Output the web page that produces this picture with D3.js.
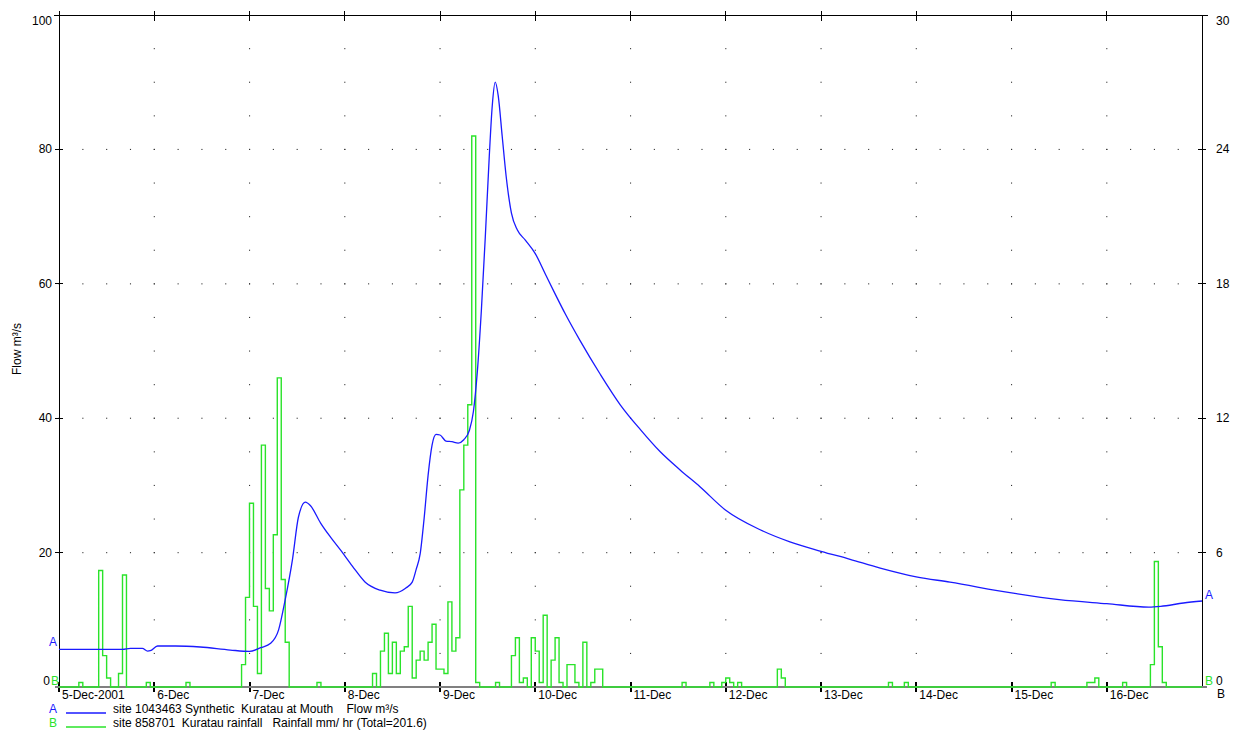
<!DOCTYPE html>
<html>
<head>
<meta charset="utf-8">
<script src="https://cdn.jsdelivr.net/npm/d3@7"></script>
<style>
body { margin: 0; background: #fff; }
text { font-family: Arial, "Liberation Sans", sans-serif; font-size: 12px; }
</style>
</head>
<body>
<script>
// flow series (site 1043463)
var flowTimes = [
  "12-05 00:00","12-05 16:00","12-05 18:00","12-05 21:00","12-05 22:20","12-05 23:00",
  "12-06 00:50","12-06 05:20","12-06 11:35","12-06 19:10",
  "12-07 00:00","12-07 02:50","12-07 05:20","12-07 07:20","12-07 09:00","12-07 10:50",
  "12-07 12:20","12-07 14:05","12-07 15:20","12-07 17:55","12-07 20:25","12-07 22:55",
  "12-08 01:55","12-08 05:10","12-08 08:55","12-08 12:40","12-08 15:20","12-08 17:00",
  "12-08 18:00","12-08 19:00","12-08 20:00","12-08 21:00","12-08 22:00","12-08 23:00",
  "12-09 00:00","12-09 01:30","12-09 03:00","12-09 04:35","12-09 06:00","12-09 07:25",
  "12-09 08:25","12-09 09:25","12-09 10:25","12-09 11:25","12-09 12:25","12-09 13:10",
  "12-09 13:55","12-09 14:40","12-09 15:40","12-09 16:40","12-09 18:00","12-09 19:30",
  "12-09 21:30","12-10 00:00","12-10 02:30","12-10 05:00","12-10 07:35","12-10 11:20",
  "12-10 16:25","12-10 21:25","12-11 02:30","12-11 07:30","12-11 12:30","12-11 17:30",
  "12-12 00:00","12-12 08:40","12-12 16:10","12-13 00:00","12-13 07:20","12-13 14:55",
  "12-14 00:00","12-14 08:30","12-15 00:00","12-15 12:00","12-16 00:00","12-16 10:35",
  "12-16 13:35","12-16 19:20","12-17 00:00"
];
var flowValues = [
  5.6, 5.6, 5.75, 5.75, 5.35, 5.4,
  6.1, 6.1, 5.95, 5.5,
  5.3, 5.85, 6.5, 8.5, 13.0, 19.0,
  25.3, 27.5, 27.0, 24.4, 22.3, 20.4,
  18.0, 15.6, 14.4, 14.0, 14.7, 15.6,
  17.5, 19.8, 25.1, 31.5, 36.0, 37.6,
  37.5, 36.6, 36.5, 36.3, 36.8, 38.2,
  41.0, 47.0, 56.0, 67.0, 79.0, 86.5,
  90.0, 88.0, 82.0, 76.0, 70.5, 68.0,
  66.5, 64.5, 61.5, 58.5, 55.5, 51.5,
  46.5, 42.0, 38.3, 35.0, 32.3, 29.8,
  26.3, 23.4, 21.6, 20.2, 19.0, 17.7,
  16.4, 15.6, 14.0, 13.0, 12.4, 11.9,
  12.0, 12.5, 12.8
];

// hourly rainfall (site 858701), hours not listed are zero
var rainTimes = [
  "12-05 05:00","12-05 10:00","12-05 11:00","12-05 12:00","12-05 15:00","12-05 16:00","12-05 22:00",
  "12-06 08:00","12-06 22:00","12-06 23:00",
  "12-07 00:00","12-07 01:00","12-07 02:00","12-07 03:00","12-07 04:00","12-07 05:00",
  "12-07 06:00","12-07 07:00","12-07 08:00","12-07 09:00","12-07 17:00",
  "12-08 07:00","12-08 09:00","12-08 10:00","12-08 11:00","12-08 12:00","12-08 13:00",
  "12-08 14:00","12-08 15:00","12-08 16:00","12-08 17:00","12-08 18:00","12-08 19:00",
  "12-08 20:00","12-08 21:00","12-08 22:00","12-08 23:00",
  "12-09 00:00","12-09 01:00","12-09 02:00","12-09 03:00","12-09 04:00","12-09 05:00",
  "12-09 06:00","12-09 07:00","12-09 08:00","12-09 09:00","12-09 14:00","12-09 18:00",
  "12-09 19:00","12-09 20:00","12-09 21:00","12-09 23:00",
  "12-10 00:00","12-10 01:00","12-10 02:00","12-10 04:00","12-10 05:00","12-10 06:00",
  "12-10 08:00","12-10 09:00","12-10 10:00","12-10 12:00","12-10 14:00","12-10 15:00","12-10 16:00",
  "12-11 13:00","12-11 20:00","12-11 23:00",
  "12-12 00:00","12-12 01:00","12-12 03:00","12-12 13:00","12-12 14:00",
  "12-13 17:00","12-13 21:00",
  "12-15 10:00","12-15 19:00","12-15 20:00","12-15 21:00",
  "12-16 04:00","12-16 11:00","12-16 12:00","12-16 13:00","12-16 14:00"
];
var rainValues = [
  0.2, 5.2, 1.4, 0.4, 0.6, 5.0, 0.2,
  0.2, 1.0, 4.0,
  8.2, 3.6, 0.6, 10.8, 4.4, 3.4,
  6.8, 13.8, 4.8, 2.0, 0.2,
  0.6, 1.6, 2.4, 0.6, 2.0, 0.6,
  1.6, 1.8, 3.6, 0.4, 1.2, 1.6,
  1.2, 2.0, 2.8, 0.8,
  0.8, 0.6, 3.8, 1.6, 2.2, 8.8,
  10.8, 12.6, 24.6, 0.2, 0.2, 1.4,
  2.2, 0.2, 0.4, 2.2,
  1.6, 0.2, 3.2, 1.2, 2.2, 0.2,
  1.0, 1.0, 0.2, 2.0, 0.2, 0.8, 0.8,
  0.2, 0.2, 0.2,
  0.4, 0.2, 0.2, 0.8, 0.4,
  0.2, 0.2,
  0.2, 0.2, 0.2, 0.4,
  0.2, 1.0, 5.6, 1.8, 0.2
];

var dayTicks = ["12-05 00:00","12-06 00:00","12-07 00:00","12-08 00:00","12-09 00:00","12-10 00:00",
  "12-11 00:00","12-12 00:00","12-13 00:00","12-14 00:00","12-15 00:00","12-16 00:00"];
var dayLabels = ["5-Dec-2001","6-Dec","7-Dec","8-Dec","9-Dec","10-Dec",
  "11-Dec","12-Dec","13-Dec","14-Dec","15-Dec","16-Dec"];
var flowTicks = [0, 20, 40, 60, 80, 100];
var rainTicks = [0, 6, 12, 18, 24, 30];

var blue = "#1a1aff", green = "#2ae32a";

var parse = function(s) { return d3.timeParse("%Y-%m-%d %H:%M")("2001-" + s); };
var t0 = parse("12-05 00:00"), t1 = parse("12-17 00:00");

var L = 59, R = 1202, T = 15, B = 687;

var svg = d3.select("body").append("svg")
  .attr("width", 1237)
  .attr("height", 730)
  .style("background", "#fff");

var x = d3.scaleTime().domain([t0, t1]).range([L, R]);
var yFlow = d3.scaleLinear().domain([0, 100]).range([B, T]);
var yRain = d3.scaleLinear().domain([0, 30]).range([B, T]);

// dotted grid: day columns and 20-unit rows
var dots = svg.append("g").attr("fill", "#333");
dayTicks.slice(1).forEach(function(d) {
  d3.range(5, 100, 5).forEach(function(v) {
    dots.append("rect").attr("x", x(parse(d)) - 0.5).attr("y", yFlow(v) - 0.5)
      .attr("width", 1.1).attr("height", 1.1);
  });
});
[20, 40, 60, 80].forEach(function(v) {
  d3.timeHour.every(6).range(t0, t1).forEach(function(t) {
    dots.append("rect").attr("x", x(t) - 0.5).attr("y", yFlow(v) - 0.5)
      .attr("width", 1.1).attr("height", 1.1);
  });
});

// frame
var frame = svg.append("g").attr("stroke", "#000").attr("shape-rendering", "crispEdges");
frame.append("line").attr("x1", L - 5).attr("x2", R + 6).attr("y1", T).attr("y2", T);
frame.append("line").attr("x1", L).attr("x2", L).attr("y1", T - 4).attr("y2", B);
frame.append("line").attr("x1", R).attr("x2", R).attr("y1", T).attr("y2", B);
svg.append("line").attr("x1", L - 4).attr("x2", R + 5).attr("y1", B).attr("y2", B)
  .attr("stroke", "#808080").attr("stroke-width", 2);

// day ticks top and bottom
dayTicks.forEach(function(d) {
  var xx = x(parse(d));
  frame.append("line").attr("x1", xx).attr("x2", xx).attr("y1", T - 4).attr("y2", T + 6);
  frame.append("line").attr("x1", xx).attr("x2", xx).attr("y1", B - 5).attr("y2", B + 5)
    .attr("stroke-width", 2);
});
flowTicks.slice(1, -1).forEach(function(v) {
  frame.append("line").attr("x1", L - 4).attr("x2", L + 4).attr("y1", yFlow(v)).attr("y2", yFlow(v));
});
rainTicks.slice(1, -1).forEach(function(v) {
  frame.append("line").attr("x1", R - 4).attr("x2", R + 4).attr("y1", yRain(v)).attr("y2", yRain(v));
});

// axis labels
svg.append("g").selectAll("text").data(flowTicks).join("text")
  .attr("x", function(v) { return v === 0 ? 50 : 52; }).attr("text-anchor", "end")
  .attr("y", function(v) { return v === 100 ? 25 : v === 0 ? 685 : yFlow(v) + 4; })
  .text(function(v) { return v; });
svg.append("g").selectAll("text").data(rainTicks).join("text")
  .attr("x", 1216)
  .attr("y", function(v) { return v === 30 ? 25 : v === 0 ? 685 : yRain(v) + 4; })
  .text(function(v) { return v; });
svg.append("g").selectAll("text").data(dayTicks).join("text")
  .attr("x", function(d) { return x(parse(d)) + 3; })
  .attr("y", 699)
  .text(function(d, i) { return dayLabels[i]; });

svg.append("text")
  .attr("transform", "translate(21,349) rotate(-90)")
  .attr("text-anchor", "middle")
  .text("Flow m\u00b3/s");

// rainfall as hourly step line
var rainMap = {};
rainTimes.forEach(function(s, i) { rainMap[+parse(s)] = rainValues[i]; });
var rainSeries = d3.timeHour.range(t0, t1).map(function(t) {
  return { t: t, v: rainMap[+t] || 0 };
});
rainSeries.push({ t: t1, v: 0 });
svg.append("path")
  .datum(rainSeries)
  .attr("fill", "none")
  .attr("stroke", green)
  .attr("stroke-width", 1.4)
  .attr("d", d3.line().curve(d3.curveStepAfter)
    .x(function(d) { return x(d.t); })
    .y(function(d) { return yRain(d.v); }));

// flow line
var flow = flowTimes.map(function(s, i) { return { t: parse(s), v: flowValues[i] }; });
svg.append("path")
  .datum(flow)
  .attr("fill", "none")
  .attr("stroke", blue)
  .attr("stroke-width", 1.3)
  .attr("d", d3.line().curve(d3.curveMonotoneX)
    .x(function(d) { return x(d.t); })
    .y(function(d) { return yFlow(d.v); }));

// series markers at the ends
var f0 = flowValues[0], f1 = flowValues[flowValues.length - 1];
svg.append("text").attr("x", 49).attr("y", yFlow(f0) - 3).attr("fill", blue).text("A");
svg.append("text").attr("x", 1205).attr("y", yFlow(f1) - 2).attr("fill", blue).text("A");
svg.append("text").attr("x", 51).attr("y", 685).attr("fill", green).text("B");
svg.append("text").attr("x", 1205).attr("y", 685).attr("fill", green).text("B");
svg.append("text").attr("x", 1217).attr("y", 698).text("B");

// legend
var legend = [
  { key: "A", color: blue, label: "site 1043463 Synthetic  Kuratau at Mouth    Flow m\u00b3/s" },
  { key: "B", color: green, label: "site 858701  Kuratau rainfall   Rainfall mm/ hr (Total=201.6)" }
];
legend.forEach(function(d, i) {
  var yy = 713 + i * 14;
  svg.append("text").attr("x", 49).attr("y", yy).attr("fill", d.color).text(d.key);
  svg.append("line").attr("x1", 66).attr("x2", 106).attr("y1", yy).attr("y2", yy)
    .attr("stroke", d.color).attr("stroke-width", 1.3);
  svg.append("text").attr("x", 113).attr("y", yy).style("white-space", "pre").text(d.label);
});
</script>
</body>
</html>
